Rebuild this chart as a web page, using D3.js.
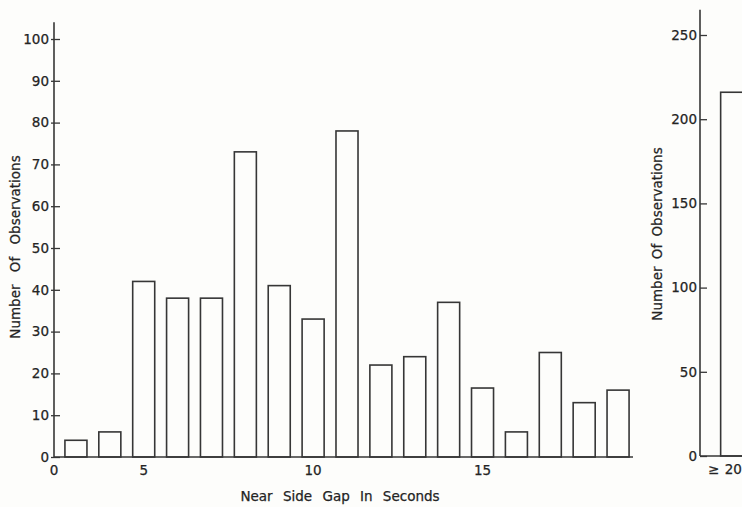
<!DOCTYPE html>
<meta charset="utf-8">
<script src="https://cdn.jsdelivr.net/npm/d3@7"></script>
<style>
  body { margin: 0; background: #fdfdfb; }
  text { font-family: "DejaVu Sans", Lato, sans-serif; fill: #242424; stroke: #242424; stroke-width: 0.25; }
</style>
<div id="js_chart"></div>
<script>
// ******************************************
// data
// ******************************************
const gapSeconds = [3, 4, 5, 6, 7, 8, 9, 10, 11, 12, 13, 14, 15, 16, 17, 18, 19];
const gapCounts  = [4, 6, 42, 38, 38, 73, 41, 33, 78, 22, 24, 37, 16.5, 6, 25, 13, 16];
const gapTickLabels = [5, 10, 15];
const countTicks = [0, 10, 20, 30, 40, 50, 60, 70, 80, 90, 100];

const longGapCats = ["≥ 20"];
const longGapCounts = [216];
const longCountTicks = [0, 50, 100, 150, 200, 250];

const ink = "#363636";
const width = 742, height = 507;
const tickFont = 13.5, titleFont = 13.5;

const svg = d3.select("#js_chart").append("svg")
    .attr("width", width).attr("height", height);

svg.append("rect").attr("width", width).attr("height", height).attr("fill", "#fdfdfb");

// ******************************************************
// left panel
// ******************************************************
const x = d3.scaleBand().domain(gapSeconds).range([59, 635])
    .paddingInner(0.35).paddingOuter(0.175);
const y = d3.scaleLinear().domain([0, 100]).range([457, 39]);
const axisX = 54;

const left = svg.append("g");

left.selectAll("rect.bar")
    .data(gapSeconds)
    .enter().append("rect")
    .attr("class", "bar")
    .attr("x", d => x(d))
    .attr("width", x.bandwidth())
    .attr("y", (d, i) => y(gapCounts[i]))
    .attr("height", (d, i) => y(0) - y(gapCounts[i]))
    .attr("fill", "none")
    .attr("stroke", ink)
    .attr("stroke-width", 1.6);

// y axis
const yAx = left.append("g")
    .attr("transform", "translate(" + axisX + ",0)")
    .call(d3.axisLeft(y).tickValues(countTicks).tickSize(-6).tickPadding(5));
yAx.select(".domain").remove();
yAx.selectAll(".tick line").attr("x1", -3).attr("stroke", ink).attr("stroke-width", 1.3);
yAx.selectAll(".tick text").attr("font-size", tickFont).attr("fill", "#242424");
left.append("line")
    .attr("x1", axisX).attr("x2", axisX)
    .attr("y1", y(0)).attr("y2", y(104))
    .attr("stroke", ink).attr("stroke-width", 1.6);

// x axis
const xAx = left.append("g")
    .attr("transform", "translate(0," + y(0) + ")")
    .call(d3.axisBottom(x).tickValues(gapTickLabels).tickSize(0).tickPadding(8));
xAx.select(".domain").remove();
xAx.selectAll(".tick text").attr("font-size", tickFont).attr("fill", "#242424");
left.append("line")
    .attr("x1", axisX).attr("x2", x.range()[1] - 2)
    .attr("y1", y(0)).attr("y2", y(0))
    .attr("stroke", ink).attr("stroke-width", 1.6);
left.append("text")
    .attr("x", axisX).attr("y", y(0) + 8).attr("dy", "0.71em")
    .attr("text-anchor", "middle").attr("font-size", tickFont)
    .text("0");

left.append("text")
    .attr("transform", "translate(15," + 247 + ") rotate(-90)")
    .attr("text-anchor", "middle").attr("dy", "0.35em")
    .attr("font-size", titleFont).attr("word-spacing", 8)
    .text("Number Of Observations");

left.append("text")
    .attr("x", 340).attr("y", 501)
    .attr("text-anchor", "middle")
    .attr("font-size", titleFont).attr("word-spacing", 6)
    .text("Near Side Gap In Seconds");

// ******************************************************
// right panel (cut off at the page edge)
// ******************************************************
const x2 = d3.scaleBand().domain(longGapCats).range([714, 752])
    .paddingInner(0.35).paddingOuter(0.175);
const y2 = d3.scaleLinear().domain([0, 250]).range([456, 35]);
const axis2X = 700;

const right = svg.append("g");

right.selectAll("rect.bar")
    .data(longGapCats)
    .enter().append("rect")
    .attr("class", "bar")
    .attr("x", d => x2(d))
    .attr("width", x2.bandwidth())
    .attr("y", (d, i) => y2(longGapCounts[i]))
    .attr("height", (d, i) => y2(0) - y2(longGapCounts[i]))
    .attr("fill", "none")
    .attr("stroke", ink)
    .attr("stroke-width", 1.6);

const y2Ax = right.append("g")
    .attr("transform", "translate(" + axis2X + ",0)")
    .call(d3.axisLeft(y2).tickValues(longCountTicks).tickSize(-7).tickPadding(3));
y2Ax.select(".domain").remove();
y2Ax.selectAll(".tick line").attr("stroke", ink).attr("stroke-width", 1.3);
y2Ax.selectAll(".tick text").attr("font-size", tickFont).attr("fill", "#242424");
right.append("line")
    .attr("x1", axis2X).attr("x2", axis2X)
    .attr("y1", y2(0)).attr("y2", y2(265))
    .attr("stroke", ink).attr("stroke-width", 1.6);
right.append("line")
    .attr("x1", axis2X).attr("x2", width)
    .attr("y1", y2(0)).attr("y2", y2(0))
    .attr("stroke", ink).attr("stroke-width", 1.6);

right.selectAll("text.cat")
    .data(longGapCats)
    .enter().append("text")
    .attr("class", "cat")
    .attr("x", d => x2(d) + x2.bandwidth() / 2 - 8)
    .attr("y", y2(0) + 8).attr("dy", "0.71em")
    .attr("text-anchor", "middle").attr("font-size", tickFont)
    .attr("word-spacing", 1)
    .text(d => d);

right.append("text")
    .attr("transform", "translate(657," + 234 + ") rotate(-90)")
    .attr("text-anchor", "middle").attr("dy", "0.35em")
    .attr("font-size", titleFont).attr("word-spacing", 3)
    .text("Number Of Observations");
</script>
